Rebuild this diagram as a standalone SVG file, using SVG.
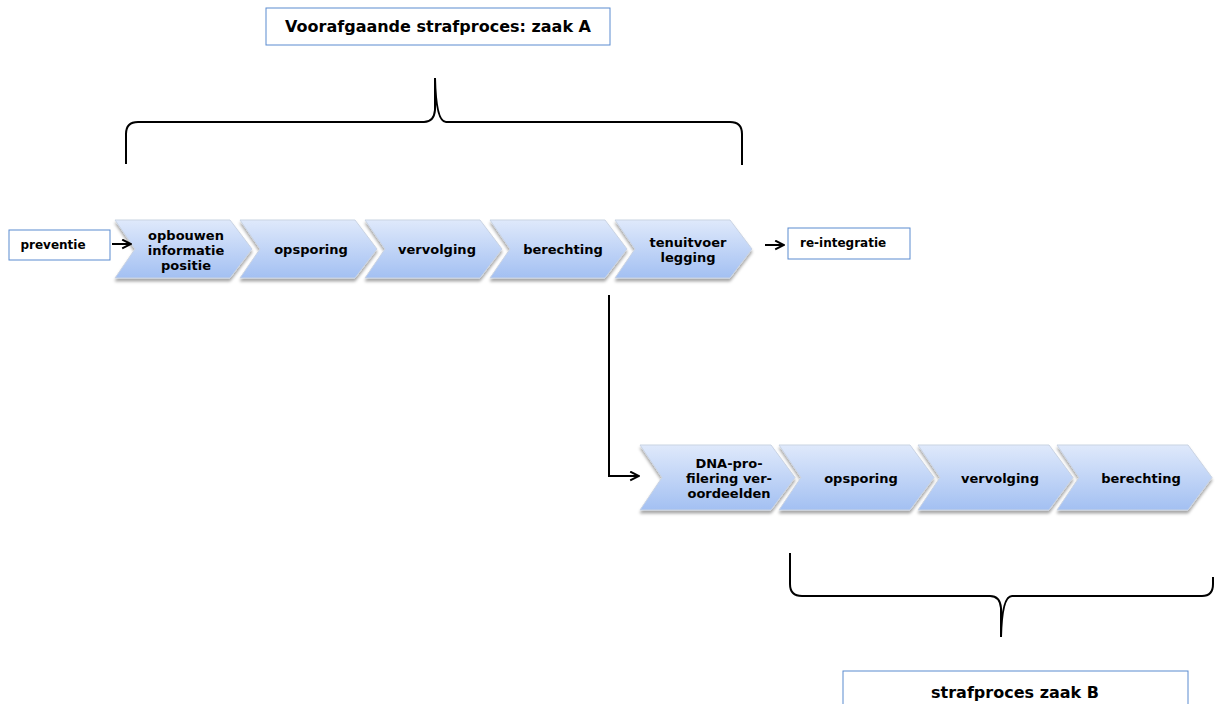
<svg xmlns="http://www.w3.org/2000/svg" width="1215" height="704" viewBox="0 0 1215 704">
<defs>
<linearGradient id="chev" x1="0" y1="0" x2="0" y2="1">
<stop offset="0" stop-color="#dfe9fb"/>
<stop offset="1" stop-color="#a3c0f2"/>
</linearGradient>
<filter id="sh" x="-10%" y="-10%" width="120%" height="130%">
<feDropShadow dx="0" dy="3" stdDeviation="1.8" flood-color="#000" flood-opacity="0.35"/>
</filter>
<marker id="ah" viewBox="0 0 10 10" refX="9" refY="5" markerWidth="11" markerHeight="11" markerUnits="userSpaceOnUse" orient="auto">
<path d="M1,1 L9,5 L1,9" fill="none" stroke="#000" stroke-width="1.8"/>
</marker>
<path id="ct" d="M0,0 H115 L137,29 L115,58 H0 L20,29 Z"/>
<path id="cb" d="M0,0 H131 L155,32.5 L131,65 H0 L22,32.5 Z"/>
</defs>
<style>
.chev{fill:url(#chev);stroke:#c9d3e3;stroke-width:1;filter:url(#sh)}
.lbl{font-family:"DejaVu Sans",Verdana,sans-serif;font-weight:bold;font-size:13px;fill:#000;text-anchor:middle}
.box{fill:#fff;stroke:#5b8bd0;stroke-width:1}
.small{font-family:"DejaVu Sans",Verdana,sans-serif;font-weight:bold;font-size:12px;fill:#000}
.title{font-family:"DejaVu Sans",Verdana,sans-serif;font-weight:bold;font-size:16px;fill:#000;text-anchor:middle}
.con{fill:none;stroke:#000;stroke-width:2}
.brace{fill:none;stroke:#000;stroke-width:2}
</style>
<rect width="1215" height="704" fill="#fff"/>

<g id="title-a">
<rect class="box" x="266" y="8" width="344" height="37"/>
<text class="title" x="438" y="32">Voorafgaande strafproces:  zaak A</text>
</g>
<g id="brace-a">
<path class="brace" d="M126,164 V134 Q126,122 138,122 H424 Q434,122 435,110 V78 Q436,122 446,122 H730 Q742,122 742,134 V165"/>
</g>

<g id="preventie">
<rect class="box" x="9" y="230" width="101" height="30"/>
<text class="small" x="53" y="249" text-anchor="middle">preventie</text>
</g>
<g id="c1">
<use href="#ct" class="chev" transform="translate(115,220)"/>
<text class="lbl" x="186" y="240">opbouwen</text>
<text class="lbl" x="186" y="255">informatie</text>
<text class="lbl" x="186" y="270">positie</text>
</g>
<g id="c2">
<use href="#ct" class="chev" transform="translate(240,220)"/>
<text class="lbl" x="311" y="254">opsporing</text>
</g>
<g id="c3">
<use href="#ct" class="chev" transform="translate(365,220)"/>
<text class="lbl" x="437" y="254">vervolging</text>
</g>
<g id="c4">
<use href="#ct" class="chev" transform="translate(490,220)"/>
<text class="lbl" x="563" y="254">berechting</text>
</g>
<g id="c5">
<use href="#ct" class="chev" transform="translate(615,220)"/>
<text class="lbl" x="688" y="247">tenuitvoer</text>
<text class="lbl" x="688" y="262">legging</text>
</g>
<g id="reintegratie">
<rect class="box" x="788" y="228" width="122" height="31"/>
<text class="small" x="800" y="247">re-integratie</text>
</g>

<g id="d1">
<use href="#cb" class="chev" transform="translate(640,445)"/>
<text class="lbl" x="729" y="468">DNA-pro-</text>
<text class="lbl" x="729" y="483">filering ver-</text>
<text class="lbl" x="729" y="498">oordeelden</text>
</g>
<g id="d2">
<use href="#cb" class="chev" transform="translate(779,445)"/>
<text class="lbl" x="861" y="483">opsporing</text>
</g>
<g id="d3">
<use href="#cb" class="chev" transform="translate(918,445)"/>
<text class="lbl" x="1000" y="483">vervolging</text>
</g>
<g id="d4">
<use href="#cb" class="chev" transform="translate(1057,445)"/>
<text class="lbl" x="1141" y="483">berechting</text>
</g>

<g id="brace-b">
<path class="brace" d="M790,553 V584 Q790,596 802,596 H990 Q1000,596 1001,608 V637 Q1002,596 1012,596 H1202 Q1213,596 1213,584 V577"/>
</g>
<g id="title-b">
<rect class="box" x="843" y="671" width="345" height="40"/>
<text class="title" x="1015" y="698">strafproces zaak B</text>
</g>

<g id="connectors">
<path class="con" d="M112,244 H131" marker-end="url(#ah)"/>
<path class="con" d="M765,245 H784" marker-end="url(#ah)"/>
<path class="con" d="M609,295 V476 H639" marker-end="url(#ah)"/>
</g>
</svg>
